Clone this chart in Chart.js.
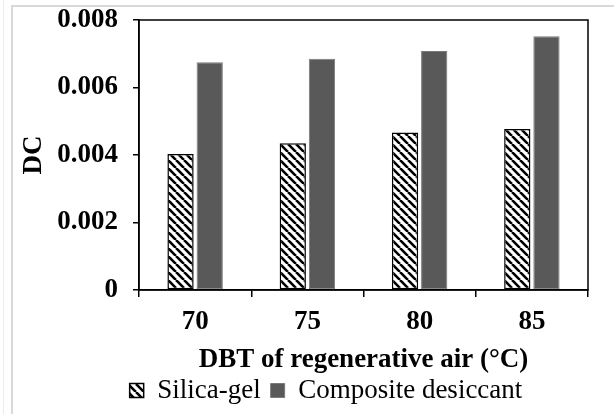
<!DOCTYPE html>
<html>
<head>
<meta charset="utf-8">
<script src="https://cdn.jsdelivr.net/npm/chart.js@4"></script>
<style>
  html, body { margin: 0; padding: 0; background: #fff; }
  #wrap { position: relative; width: 614px; height: 414px; }
</style>
</head>
<body>
<div id="wrap"><canvas id="grafico" width="614" height="414"></canvas></div>
<script>
// dados
const categorias = ['70', '75', '80', '85'];
const silicaGel = [0.00403, 0.00435, 0.00467, 0.00477];
const composito = [0.00675, 0.00685, 0.00708, 0.00752];
const yTicks = [0, 0.002, 0.004, 0.006, 0.008];

const FONTE = '"Liberation Serif", "Times New Roman", serif';

// hachura diagonal para a sílica-gel
function criarHachura() {
    const c = document.createElement('canvas');
    c.width = 8; c.height = 8;
    const g = c.getContext('2d');
    g.fillStyle = '#fff';
    g.fillRect(0, 0, 8, 8);
    g.strokeStyle = '#000';
    g.lineWidth = 2.6;
    g.beginPath();
    [-8, 0, 8].forEach(k => { g.moveTo(k, 0); g.lineTo(k + 8, 8); });
    g.stroke();
    return g.createPattern(c, 'repeat');
}

// moldura cinza + caixa preta da área do gráfico + legenda deslocada
const moldura = {
    id: 'moldura',
    afterLayout(chart) {
        chart.legend.left += 32;
        chart.legend.right += 32;
    },
    beforeDraw(chart) {
        const ctx = chart.ctx;
        ctx.save();
        ctx.strokeStyle = '#d9d9d9';
        ctx.lineWidth = 2;
        ctx.beginPath();
        ctx.moveTo(12, 414); ctx.lineTo(12, 6); ctx.lineTo(614, 6);
        ctx.stroke();
        ctx.strokeStyle = '#ececec';
        ctx.lineWidth = 1;
        ctx.beginPath();
        ctx.moveTo(3.5, 0); ctx.lineTo(3.5, 414);
        ctx.stroke();
        ctx.restore();
    },
    afterDatasetsDraw(chart) {
        const a = chart.chartArea, ctx = chart.ctx;
        ctx.save();
        ctx.strokeStyle = '#000';
        ctx.lineWidth = 1.5;
        ctx.strokeRect(a.left, a.top, a.right - a.left, a.bottom - a.top);
        ctx.restore();
    }
};

const ctx = document.getElementById('grafico').getContext('2d');
new Chart(ctx, {
    type: 'bar',
    data: {
        labels: categorias,
        datasets: [
            {
                label: 'Silica-gel',
                data: silicaGel,
                backgroundColor: criarHachura(),
                borderColor: '#000',
                borderWidth: 1.5,
                borderSkipped: false
            },
            {
                label: 'Composite desiccant',
                data: composito,
                backgroundColor: '#595959',
                borderColor: '#7a7a7a',
                borderWidth: 1,
                borderSkipped: false
            }
        ]
    },
    options: {
        responsive: false,
        animation: false,
        categoryPercentage: 0.52,
        barPercentage: 0.9,
        layout: { padding: { left: 0, right: 26, top: 20, bottom: 0 } },
        plugins: {
            tooltip: { enabled: false },
            legend: {
                position: 'bottom',
                labels: {
                    font: { family: FONTE, size: 27 },
                    color: '#000',
                    boxWidth: 14,
                    boxHeight: 14,
                    padding: 10
                }
            }
        },
        scales: {
            x: {
                grid: { display: true, drawOnChartArea: false, offset: true, tickLength: 7, color: '#000', lineWidth: 1.5 },
                border: { display: true, color: '#000', width: 1.5 },
                ticks: { font: { family: FONTE, size: 27, weight: 'bold' }, color: '#000', padding: 9 },
                title: {
                    display: true,
                    text: 'DBT of regenerative air (°C)',
                    font: { family: FONTE, size: 27, weight: 'bold' },
                    color: '#000',
                    padding: { top: 0, bottom: -9 }
                },
                afterFit(s) { s.height = 77; }
            },
            y: {
                min: 0,
                max: 0.008,
                afterBuildTicks(s) { s.ticks = yTicks.map(v => ({ value: v })); },
                grid: { display: true, drawOnChartArea: false, tickLength: 6, color: '#000', lineWidth: 1.5 },
                border: { display: true, color: '#000', width: 1.5 },
                ticks: {
                    font: { family: FONTE, size: 27, weight: 'bold' },
                    color: '#000',
                    padding: 15,
                    callback: v => v === 0 ? '0' : v.toFixed(3)
                },
                title: {
                    display: true,
                    text: 'DC',
                    font: { family: FONTE, size: 27, weight: 'bold' },
                    color: '#000',
                    padding: { top: 18, bottom: 0 }
                },
                afterFit(s) {
                    s.width = 139;
                    s.paddingTop = 0;
                    s.paddingBottom = 0;
                }
            }
        }
    },
    plugins: [moldura]
});
</script>
</body>
</html>
